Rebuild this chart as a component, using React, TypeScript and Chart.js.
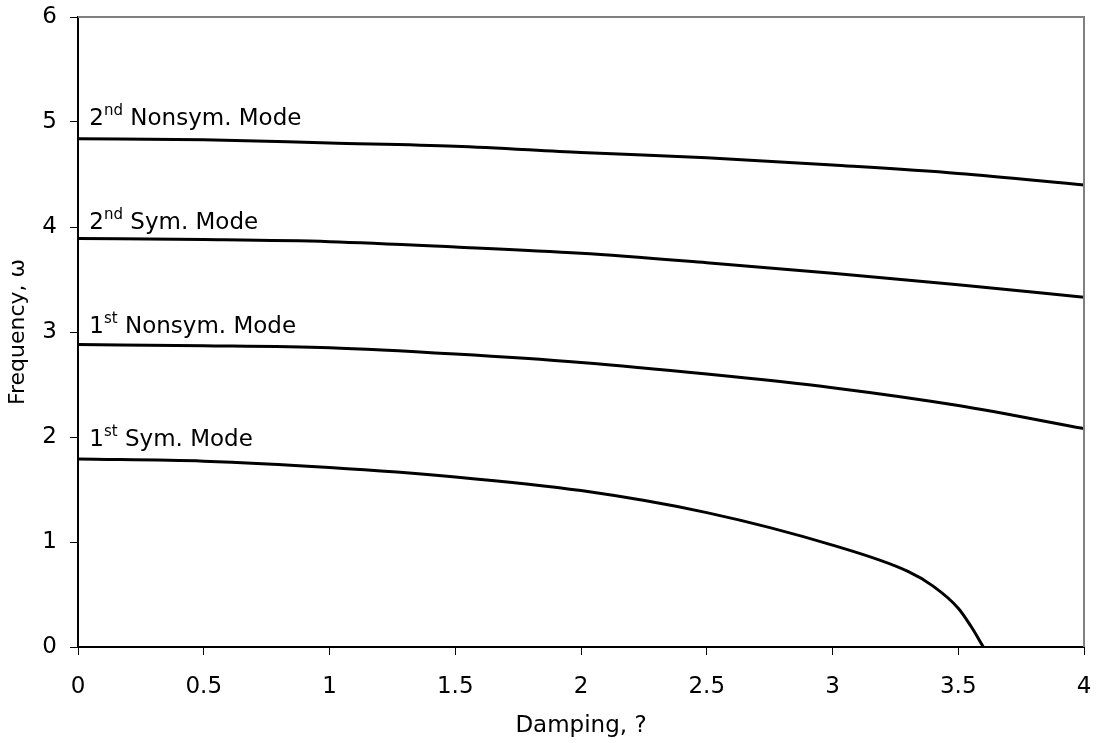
import React, { useEffect, useRef } from "react";
import { Chart, registerables } from "chart.js";

Chart.register(...registerables);

// Damping values (x) for the three upper modes
const dampingX = [0, 0.5, 1, 1.5, 2, 2.5, 3, 3.5, 4];
const secondNonsym = [4.84, 4.83, 4.8, 4.77, 4.71, 4.66, 4.59, 4.51, 4.4];
const secondSym = [3.89, 3.88, 3.86, 3.81, 3.75, 3.66, 3.56, 3.45, 3.33];
const firstNonsym = [2.88, 2.87, 2.85, 2.79, 2.71, 2.6, 2.47, 2.3, 2.08];
// First symmetric mode drops to zero near 3.6
const firstSymX = [0, 0.5, 1, 1.5, 2, 2.5, 3, 3.3, 3.4, 3.5, 3.55, 3.6];
const firstSymY = [1.79, 1.77, 1.71, 1.62, 1.49, 1.28, 0.97, 0.72, 0.58, 0.37, 0.2, 0];

const xTicks = [0, 0.5, 1, 1.5, 2, 2.5, 3, 3.5, 4];
const yTicks = [0, 1, 2, 3, 4, 5, 6];

// Curve annotations
const labelMain = ["2", "2", "1", "1"];
const labelSup = ["nd", "nd", "st", "st"];
const labelRest = [" Nonsym. Mode", " Sym. Mode", " Nonsym. Mode", " Sym. Mode"];
const labelX = [0.045, 0.045, 0.045, 0.045];
const labelY = [4.97, 3.98, 2.99, 1.91];

const FONT = "'DejaVu Sans', Verdana, sans-serif";

const toPts = (xs: number[], ys: number[]) => xs.map((x, i) => ({ x, y: ys[i] }));

export default function App() {
  const ref = useRef<HTMLCanvasElement | null>(null);
  useEffect(() => {
    document.body.style.margin = "0";
    const canvas = ref.current!;
    const framePlugin = {
      id: "frame",
      afterDraw(chart: any) {
        const { ctx, chartArea: a, scales } = chart;
        ctx.save();
        ctx.strokeStyle = "#808080";
        ctx.lineWidth = 2;
        ctx.beginPath();
        ctx.moveTo(a.left, a.top);
        ctx.lineTo(a.right, a.top);
        ctx.lineTo(a.right, a.bottom);
        ctx.stroke();
        // annotations
        ctx.fillStyle = "#000";
        ctx.textBaseline = "alphabetic";
        ctx.textAlign = "left";
        for (let i = 0; i < labelMain.length; i++) {
          let px = scales.x.getPixelForValue(labelX[i]);
          const py = scales.y.getPixelForValue(labelY[i]);
          ctx.font = `23px ${FONT}`;
          ctx.fillText(labelMain[i], px, py);
          px += ctx.measureText(labelMain[i]).width;
          ctx.font = `15px ${FONT}`;
          ctx.fillText(labelSup[i], px, py - 10);
          px += ctx.measureText(labelSup[i]).width;
          ctx.font = `23px ${FONT}`;
          ctx.fillText(labelRest[i], px, py);
        }
        ctx.restore();
      },
    };
    const lineDs = (data: any[]) => ({
      data,
      borderColor: "#000",
      borderWidth: 3,
      pointRadius: 0,
      fill: false,
      cubicInterpolationMode: "monotone" as const,
    });
    const chart = new Chart(canvas, {
      type: "line",
      data: {
        datasets: [
          lineDs(toPts(dampingX, secondNonsym)),
          lineDs(toPts(dampingX, secondSym)),
          lineDs(toPts(dampingX, firstNonsym)),
          lineDs(toPts(firstSymX, firstSymY)),
        ],
      },
      options: {
        responsive: false,
        animation: false,
        layout: { padding: { left: 0, top: 17, right: 12, bottom: 0 } },
        plugins: { legend: { display: false }, tooltip: { enabled: false } },
        scales: {
          x: {
            type: "linear",
            min: 0,
            max: 4,
            afterBuildTicks: (s: any) => {
              s.ticks = xTicks.map((v) => ({ value: v }));
            },
            afterFit: (s: any) => {
              s.height = 96;
              s.paddingLeft = 0;
              s.paddingRight = 12;
            },
            border: { color: "#000", width: 2 },
            grid: { drawOnChartArea: false, color: "#000", tickLength: 8, lineWidth: 1 },
            ticks: {
              color: "#000",
              font: { family: FONT, size: 23 },
              padding: 18,
              maxRotation: 0,
              callback: (v: any) => String(v),
            },
            title: { display: true, text: "Damping, ?", color: "#000", font: { family: FONT, size: 23 }, padding: { top: 0, bottom: 3 } },
          },
          y: {
            type: "linear",
            min: 0,
            max: 6,
            afterBuildTicks: (s: any) => {
              s.ticks = yTicks.map((v) => ({ value: v }));
            },
            afterFit: (s: any) => {
              s.width = 78;
              s.paddingTop = 0;
              s.paddingBottom = 0;
            },
            border: { color: "#000", width: 2 },
            grid: { drawOnChartArea: false, color: "#000", tickLength: 8, lineWidth: 1 },
            ticks: { color: "#000", font: { family: FONT, size: 23 }, padding: 13, callback: (v: any) => String(v) },
            title: { display: true, text: "Frequency, ω", color: "#000", font: { family: FONT, size: 22 }, padding: { top: 5, bottom: 0 } },
          },
        },
      },
      plugins: [framePlugin],
    });
    return () => chart.destroy();
  }, []);
  return (
    <div style={{ width: 1096, height: 743, background: "#fff" }}>
      <canvas ref={ref} width={1096} height={743} />
    </div>
  );
}
